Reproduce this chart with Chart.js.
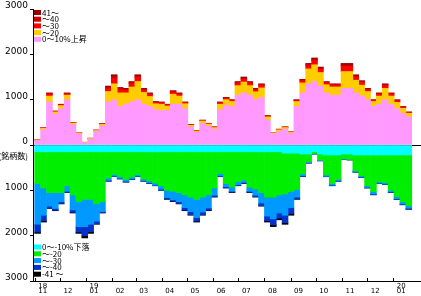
<!DOCTYPE html>
<html>
<head>
<meta charset="utf-8">
<script src="https://cdn.jsdelivr.net/npm/chart.js@4.4.0/dist/chart.umd.min.js"></script>
<style>
html, body { margin: 0; padding: 0; background: #fff; }
#wrap { width: 421px; height: 296px; }
</style>
</head>
<body>
<div id="wrap"><canvas id="myChart"></canvas></div>
<script>
const ctx = document.getElementById('myChart');

// week start dates (one bar per week)
const weeks = [
	'2018-11-01', '2018-11-08', '2018-11-15', '2018-11-22', '2018-11-29',
	'2018-12-06', '2018-12-13', '2018-12-20', '2018-12-27',
	'2019-01-03', '2019-01-10', '2019-01-17', '2019-01-24', '2019-01-31',
	'2019-02-07', '2019-02-14', '2019-02-21', '2019-02-28',
	'2019-03-07', '2019-03-14', '2019-03-21', '2019-03-28',
	'2019-04-04', '2019-04-11', '2019-04-18', '2019-04-25',
	'2019-05-02', '2019-05-09', '2019-05-16', '2019-05-23', '2019-05-30',
	'2019-06-06', '2019-06-13', '2019-06-20', '2019-06-27',
	'2019-07-04', '2019-07-11', '2019-07-18', '2019-07-25',
	'2019-08-01', '2019-08-08', '2019-08-15', '2019-08-22', '2019-08-29',
	'2019-09-05', '2019-09-12', '2019-09-19', '2019-09-26',
	'2019-10-03', '2019-10-10', '2019-10-17', '2019-10-24', '2019-10-31',
	'2019-11-07', '2019-11-14', '2019-11-21', '2019-11-28',
	'2019-12-05', '2019-12-12', '2019-12-19', '2019-12-26',
	'2020-01-02', '2020-01-09', '2020-01-16'
];

const months = ['2018-11', '2018-12', '2019-01', '2019-02', '2019-03', '2019-04', '2019-05', '2019-06',
	'2019-07', '2019-08', '2019-09', '2019-10', '2019-11', '2019-12', '2020-01'];
const monthLabels = [['18', '11'], ['', '12'], ['19', '01'], ['', '02'], ['', '03'], ['', '04'], ['', '05'], ['', '06'],
	['', '07'], ['', '08'], ['', '09'], ['', '10'], ['', '11'], ['', '12'], ['20', '01']];

const yTicks = [3000, 2000, 1000, 0, -300, -1000, -2000, -3000];

// rising issues (count of stocks)
const up10 = [100, 340, 950, 680, 800, 1000, 450, 250, 50, 130,
	300, 420, 950, 1000, 850, 900, 950, 1000, 900, 850,
	780, 760, 760, 900, 900, 800, 400, 280, 480, 420,
	350, 780, 880, 850, 1100, 1150, 1100, 1000, 1050, 550,
	250, 300, 350, 260, 850, 1150, 1350, 1400, 1300, 1150,
	1100, 1100, 1250, 1250, 1150, 1080, 1000, 850, 900, 1000,
	900, 800, 700, 620];
const up20 = [10, 30, 130, 50, 70, 100, 35, 20, 8, 15,
	22, 35, 230, 350, 300, 250, 330, 400, 260, 220,
	130, 140, 100, 220, 180, 110, 35, 28, 50, 42,
	35, 120, 120, 110, 210, 240, 210, 175, 210, 70,
	22, 36, 36, 28, 110, 220, 330, 370, 300, 180,
	180, 180, 370, 370, 280, 240, 180, 110, 180, 250,
	180, 140, 110, 80];
const up30 = [0, 5, 40, 10, 15, 30, 8, 5, 2, 3,
	4, 8, 70, 120, 70, 60, 70, 90, 50, 45,
	30, 30, 25, 45, 40, 25, 8, 6, 10, 10,
	8, 30, 30, 25, 55, 65, 55, 45, 55, 15,
	4, 8, 8, 6, 25, 50, 70, 90, 70, 40,
	40, 40, 110, 110, 70, 60, 40, 25, 40, 60,
	40, 35, 25, 18];
const up40 = [0, 3, 15, 5, 8, 10, 4, 3, 0, 1,
	2, 4, 25, 40, 25, 20, 25, 30, 20, 18,
	10, 10, 8, 18, 15, 8, 4, 3, 5, 4,
	4, 10, 10, 8, 18, 23, 18, 15, 18, 8,
	2, 3, 3, 3, 8, 15, 25, 30, 25, 15,
	15, 15, 35, 35, 25, 20, 15, 8, 15, 20,
	15, 13, 8, 6];
const up41 = [0, 2, 15, 5, 7, 10, 3, 2, 0, 1,
	2, 3, 25, 40, 25, 20, 25, 30, 20, 17,
	10, 10, 7, 17, 15, 7, 3, 3, 5, 4,
	3, 10, 10, 7, 17, 22, 17, 15, 17, 7,
	2, 3, 3, 3, 7, 15, 25, 30, 25, 15,
	15, 15, 35, 35, 25, 20, 15, 7, 15, 20,
	15, 12, 7, 6];

// falling issues (count of stocks)
const down10 = [150, 150, 150, 150, 150, 150, 150, 150, 150, 150,
	150, 150, 150, 150, 150, 150, 150, 150, 150, 150,
	150, 150, 150, 150, 150, 150, 150, 150, 150, 150,
	150, 150, 150, 150, 150, 150, 150, 150, 150, 150,
	150, 150, 180, 180, 180, 200, 200, 150, 200, 220,
	220, 220, 200, 200, 220, 220, 220, 220, 220, 220,
	220, 220, 220, 220];
const down20 = [700, 800, 900, 900, 900, 750, 950, 1100, 1050, 1050,
	1150, 1100, 580, 500, 550, 610, 555, 500, 600, 640,
	690, 750, 850, 870, 900, 950, 1000, 1050, 1000, 950,
	800, 480, 700, 780, 660, 620, 780, 820, 900, 1000,
	1000, 950, 900, 850, 800, 440, 170, 40, 130, 440,
	630, 535, 105, 115, 350, 460, 680, 810, 590, 610,
	780, 920, 1030, 1120];
const down30 = [900, 600, 300, 350, 200, 120, 330, 550, 600, 550,
	380, 220, 50, 35, 35, 40, 40, 35, 35, 45,
	45, 75, 160, 190, 200, 280, 320, 400, 330, 290,
	160, 50, 70, 90, 65, 55, 90, 140, 230, 420,
	480, 400, 470, 350, 170, 40, 20, 7, 15, 30,
	35, 30, 10, 10, 20, 28, 35, 50, 30, 30,
	35, 45, 50, 55];
const down40 = [170, 120, 40, 40, 40, 25, 55, 120, 200, 160,
	55, 25, 15, 10, 10, 15, 10, 10, 10, 10,
	10, 20, 30, 30, 40, 55, 65, 80, 55, 45,
	30, 15, 20, 20, 20, 20, 20, 30, 55, 100,
	130, 110, 160, 130, 40, 15, 7, 2, 4, 7,
	10, 10, 4, 4, 7, 8, 10, 15, 7, 7,
	10, 10, 15, 18];
const down41 = [30, 30, 10, 10, 10, 5, 15, 30, 50, 40,
	15, 5, 5, 5, 5, 5, 5, 5, 5, 5,
	5, 5, 10, 10, 10, 15, 15, 20, 15, 15,
	10, 5, 10, 10, 5, 5, 10, 10, 15, 30,
	40, 40, 40, 40, 10, 5, 3, 1, 1, 3,
	5, 5, 1, 1, 3, 4, 5, 5, 3, 3,
	5, 5, 5, 7];

const day0 = Date.UTC(2018, 10, 1);
function toDay(s) {
	const p = s.split('-').map(Number);
	return (Date.UTC(p[0], p[1] - 1, p[2] || 1) - day0) / 86400000;
}
const weekX = weeks.map(w => toDay(w) + 3.5);
const monthX = months.map(toDay);

function series(label, values, color, sign) {
	return {
		label: label,
		data: values.map((v, i) => ({ x: weekX[i], y: v * sign })),
		backgroundColor: color,
		borderWidth: 0,
		barPercentage: 1,
		categoryPercentage: 1,
		stack: 'all',
	};
}

const datasets = [
	series('0～10%上昇', up10, '#ff99ff', 1),
	series('～20', up20, '#ffcc00', 1),
	series('～30', up30, '#ff0000', 1),
	series('～40', up40, '#cc0000', 1),
	series('41～', up41, '#990000', 1),
	series('0～-10%下落', down10, '#00ffff', -1),
	series('～-20', down20, '#00ee00', -1),
	series('～-30', down30, '#0099ff', -1),
	series('～-40', down40, '#0033cc', -1),
	series('-41 ～', down41, '#000000', -1),
];

// legend boxes inside the plot (top: rising, bottom: falling)
const innerLegend = {
	id: 'innerLegend',
	afterDraw(chart) {
		const c = chart.ctx;
		const area = chart.chartArea;
		const ds = chart.data.datasets;
		c.save();
		c.font = '8px "Noto Sans CJK JP"';
		c.textBaseline = 'middle';
		const top = [ds[4], ds[3], ds[2], ds[1], ds[0]];
		top.forEach((d, k) => {
			const y = area.top + 3.5 + k * 6.7;
			c.fillStyle = d.backgroundColor;
			c.fillRect(area.left + 1, y - 2.5, 7, 5);
			c.fillStyle = '#000';
			c.fillText(d.label, area.left + 9, y);
		});
		const bottom = [ds[5], ds[6], ds[7], ds[8], ds[9]];
		bottom.forEach((d, k) => {
			const y = area.bottom - 34 + k * 6.8;
			c.fillStyle = d.backgroundColor;
			c.fillRect(area.left + 1, y - 2.5, 7, 5);
			c.fillStyle = '#000';
			c.fillText(d.label, area.left + 9, y);
		});
		// month tick marks point up into the plot
		const xs = chart.scales.x;
		c.strokeStyle = '#000';
		c.lineWidth = 1;
		c.beginPath();
		xs.ticks.forEach(t => {
			const px = Math.round(xs.getPixelForValue(t.value)) + 0.5;
			c.moveTo(px, area.bottom);
			c.lineTo(px, area.bottom - 3);
		});
		c.stroke();
		c.restore();
	}
};

new Chart(ctx, {
	type: 'bar',
	data: { datasets: datasets },
	options: {
		responsive: true,
		maintainAspectRatio: false,
		animation: false,
		devicePixelRatio: 1,
		layout: { padding: { top: 9, right: 0, left: 0, bottom: 0 } },
		plugins: {
			legend: false,
			tooltip: { enabled: false }
		},
		scales: {
			x: {
				type: 'linear',
				stacked: true,
				offset: false,
				min: -2,
				max: 459,
				afterBuildTicks: s => { s.ticks = monthX.map(v => ({ value: v })); },
				afterFit: s => { s.height = 15; },
				border: { color: '#000' },
				grid: { drawOnChartArea: false, drawTicks: false, offset: false, color: '#000' },
				ticks: {
					autoSkip: false,
					maxRotation: 0,
					color: '#000',
					padding: 2,
					labelOffset: 8,
					font: { family: 'DejaVu Sans', size: 7, lineHeight: 0.8 },
					callback: (v, i) => monthLabels[i]
				}
			},
			y: {
				stacked: true,
				min: -3000,
				max: 3000,
				z: 1,
				afterBuildTicks: s => { s.ticks = yTicks.map(v => ({ value: v })); },
				afterFit: s => { s.width = 33; },
				border: { color: '#000' },
				grid: {
					color: c => (c.tick && c.tick.value === 0 ? '#000' : 'rgba(0,0,0,0)'),
					tickColor: c => (c.tick && c.tick.value === -300 ? 'rgba(0,0,0,0)' : '#000'),
					tickLength: 3
				},
				ticks: {
					color: '#000',
					padding: 2,
					labelOffset: -3,
					font: c => (c.tick && c.tick.value === -300
						? { family: 'Noto Sans CJK JP', size: 8 }
						: { family: 'DejaVu Sans', size: 9 }),
					callback: v => (v === -300 ? '(銘柄数)' : String(Math.abs(v)))
				}
			}
		}
	},
	plugins: [innerLegend]
});
</script>
</body>
</html>
